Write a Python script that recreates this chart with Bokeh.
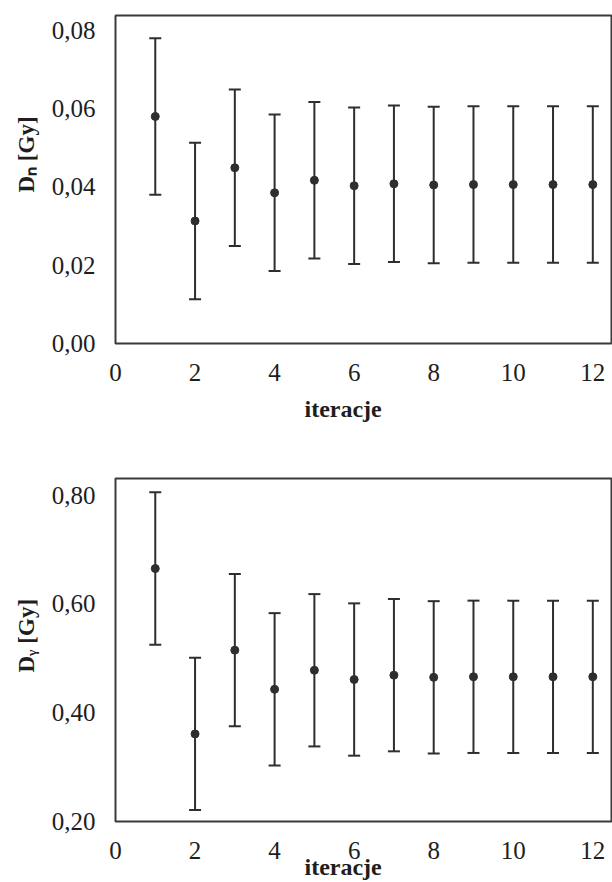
from bokeh.embed import file_html
from bokeh.layouts import column
from bokeh.models import (ColumnDataSource, CustomJSTickFormatter, FixedTicker,
                          Range1d, TeeHead, Title, Whisker)
from bokeh.plotting import figure
from bokeh.resources import INLINE

# Iteration number on the horizontal axis
iterations = [1, 2, 3, 4, 5, 6, 7, 8, 9, 10, 11, 12]

# Neutron dose D_n [Gy] and its uncertainty
dn_values = [0.0580, 0.0313, 0.0449, 0.0385, 0.0417, 0.0403,
             0.0408, 0.0405, 0.0406, 0.0406, 0.0406, 0.0406]
dn_errors = [0.020, 0.020, 0.020, 0.020, 0.020, 0.020,
             0.020, 0.020, 0.020, 0.020, 0.020, 0.020]

# Gamma dose D_gamma [Gy] and its uncertainty
dg_values = [0.665, 0.361, 0.515, 0.443, 0.478, 0.461,
             0.469, 0.465, 0.466, 0.466, 0.466, 0.466]
dg_errors = [0.140, 0.140, 0.140, 0.140, 0.140, 0.140,
             0.140, 0.140, 0.140, 0.140, 0.140, 0.140]

x_ticks = [0, 2, 4, 6, 8, 10, 12]
dn_ticks = [0.00, 0.02, 0.04, 0.06, 0.08]
dg_ticks = [0.20, 0.40, 0.60, 0.80]

FONT = "'Liberation Serif', 'Times New Roman', serif"
INK = "#1e1e1e"
LINE = "#2e2e2e"


def panel(values, errors, y_lo, y_hi, y_ticks, frame_h, border_top,
          border_bottom, y_title, y_title_offset, x_title_standoff):
    src = ColumnDataSource(dict(
        x=iterations,
        y=values,
        lower=[v - e for v, e in zip(values, errors)],
        upper=[v + e for v, e in zip(values, errors)],
    ))
    p = figure(frame_width=496, frame_height=frame_h,
               x_range=Range1d(0, 12.47), y_range=Range1d(y_lo, y_hi),
               output_backend="svg", toolbar_location=None,
               min_border_left=115, min_border_right=1,
               min_border_top=border_top, min_border_bottom=border_bottom,
               background_fill_color="white", border_fill_color="white")
    p.outline_line_color = "#3a3a3a"
    p.outline_line_width = 2
    p.grid.visible = False

    for ax in (p.xaxis[0], p.yaxis[0]):
        ax.axis_line_color = None
        ax.major_tick_line_color = None
        ax.minor_tick_line_color = None
        ax.major_tick_out = 0
        ax.major_tick_in = 0
        ax.major_label_text_font = FONT
        ax.major_label_text_font_size = "25px"
        ax.major_label_text_color = INK
        ax.major_label_standoff = 20

    p.xaxis.ticker = FixedTicker(ticks=x_ticks)
    p.yaxis.ticker = FixedTicker(ticks=y_ticks)
    p.yaxis.formatter = CustomJSTickFormatter(
        code="return tick.toFixed(2).replace('.', ',');")

    whisk = Whisker(base="x", lower="lower", upper="upper", source=src,
                    line_color=LINE, line_width=2,
                    upper_head=TeeHead(size=12, line_color=LINE, line_width=2),
                    lower_head=TeeHead(size=12, line_color=LINE, line_width=2))
    p.add_layout(whisk)
    p.scatter("x", "y", source=src, size=8, color=LINE)

    p.add_layout(Title(text=y_title, align="left", offset=y_title_offset,
                       standoff=20, text_font=FONT, text_font_style="bold",
                       text_font_size="23px", text_color=INK), "left")
    p.add_layout(Title(text="iteracje", align="left", offset=189,
                       standoff=x_title_standoff, text_font=FONT,
                       text_font_style="bold", text_font_size="24px",
                       text_color=INK), "below")
    return p


top = panel(dn_values, dn_errors, 0.0, 0.0838, dn_ticks, 328, 15, 97,
            "Dₙ [Gy]", 151, 21)
bottom = panel(dg_values, dg_errors, 0.20, 0.8305, dg_ticks, 343, 38, 61,
               "Dᵧ [Gy]", 149, -19)

layout = column(top, bottom, spacing=0)
open("out.html", "w").write(file_html(layout, INLINE))
